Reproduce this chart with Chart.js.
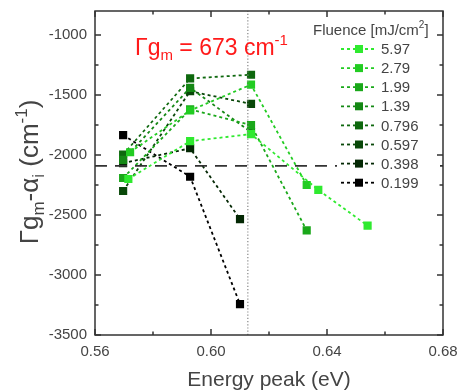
<!DOCTYPE html>
<html>
<head>
<meta charset="utf-8">
<script src="https://cdn.jsdelivr.net/npm/chart.js@4.4.1/dist/chart.umd.min.js"></script>
<style>
html,body{margin:0;padding:0;background:#fff;}
#wrap{width:459px;height:391px;}
</style>
</head>
<body>
<div id="wrap"><canvas id="c" width="459" height="391"></canvas></div>
<script>
// ---- data ----
const fluenceLabels = ['5.97','2.79','1.99','1.39','0.796','0.597','0.398','0.199'];
const s597  = [[0.5715,-2200],[0.5928,-1885],[0.6138,-1826],[0.6370,-2291],[0.6540,-2589]];
const s279  = [[0.5721,-1977],[0.5928,-1629],[0.6138,-1414],[0.6330,-2250]];
const s199  = [[0.5697,-2192],[0.5928,-1620],[0.6138,-1750],[0.6330,-2628]];
const s139  = [[0.5697,-2040],[0.5928,-1440],[0.6138,-1810]];
const s0796 = [[0.5697,-1996],[0.5928,-1362],[0.6138,-1331]];
const s0597 = [[0.5697,-2300],[0.5928,-1469],[0.6138,-1574]];
const s0398 = [[0.5697,-2068],[0.5928,-1944],[0.6100,-2534]];
const s0199 = [[0.5697,-1834],[0.5928,-2181],[0.6100,-3243]];
const seriesData = [s597,s279,s199,s139,s0796,s0597,s0398,s0199];
const seriesColors = ['#2fea2f','#22cc22','#1aa81a','#148814','#0e680e','#094809','#042804','#000000'];
const xTicks = [0.56,0.60,0.64,0.68];
const yTicks = [-3500,-3000,-2500,-2000,-1500,-1000];
const hLineY = -2090;
const vLineX = 0.6127;

const FONT = '"Liberation Sans", Arial, sans-serif';
const TXT = '#444';

const datasets = seriesData.map((s,i)=>({
  label: fluenceLabels[i],
  data: s.map(p=>({x:p[0],y:p[1]})),
  borderColor: seriesColors[i],
  backgroundColor: seriesColors[i],
  pointBorderColor: seriesColors[i],
  borderDash:[3,3],
  borderWidth:1.8,
  pointStyle:'rect',
  pointRadius:4.5,
  showLine:true,
  fill:false,
  tension:0
}));
datasets.unshift({
  label:'h', data:[{x:0.56,y:hLineY},{x:0.68,y:hLineY}],
  borderColor:'#333', borderDash:[12,8], borderWidth:1.8, pointRadius:0, showLine:true, fill:false
});
datasets.unshift({
  label:'v', data:[{x:vLineX,y:-3500},{x:vLineX,y:-800}],
  borderColor:'#888', borderDash:[1.2,2], borderWidth:1.2, pointRadius:0, showLine:true, fill:false
});

function filterTicks(vals){return function(scale){scale.ticks = vals.map(v=>({value:v}));};}

const extras = {
  id:'extras',
  afterDraw(chart){
    const ctx = chart.ctx, a = chart.chartArea;
    const xs = chart.scales.x, ys = chart.scales.y;
    ctx.save();
    // legend background (covers the dashed line)
    ctx.fillStyle='#fff'; ctx.fillRect(337,40,103,152);
    // frame ticks inward
    ctx.strokeStyle='#333'; ctx.lineWidth=1.5;
    ctx.beginPath();
    const xMinor=[0.58,0.62,0.66];
    xTicks.forEach(v=>{const p=xs.getPixelForValue(v); ctx.moveTo(p,a.bottom); ctx.lineTo(p,a.bottom-6); ctx.moveTo(p,a.top); ctx.lineTo(p,a.top+6);});
    xMinor.forEach(v=>{const p=xs.getPixelForValue(v); ctx.moveTo(p,a.bottom); ctx.lineTo(p,a.bottom-3.5); ctx.moveTo(p,a.top); ctx.lineTo(p,a.top+3.5);});
    yTicks.forEach(v=>{const p=ys.getPixelForValue(v); ctx.moveTo(a.left,p); ctx.lineTo(a.left+6,p); ctx.moveTo(a.right,p); ctx.lineTo(a.right-6,p);});
    yTicks.slice(0,-1).forEach(v=>{const p=ys.getPixelForValue(v+250); ctx.moveTo(a.left,p); ctx.lineTo(a.left+3.5,p); ctx.moveTo(a.right,p); ctx.lineTo(a.right-3.5,p);});
    ctx.stroke();
    ctx.strokeRect(a.left,a.top,a.right-a.left,a.bottom-a.top);

    // annotation
    ctx.fillStyle='#ff1a1a'; ctx.textBaseline='alphabetic'; ctx.textAlign='left';
    let x=135, y=55;
    ctx.font='23px '+FONT; ctx.fillText('Γg',x,y); x+=ctx.measureText('Γg').width;
    ctx.font='15px '+FONT; ctx.fillText('m',x,y+5); x+=ctx.measureText('m').width;
    ctx.font='23px '+FONT; ctx.fillText(' = 673 cm',x,y); x+=ctx.measureText(' = 673 cm').width;
    ctx.font='15px '+FONT; ctx.fillText('-1',x,y-10);

    // legend
    ctx.fillStyle=TXT;
    ctx.font='15px '+FONT; x=313; y=35;
    ctx.fillText('Fluence [mJ/cm',x,y); x+=ctx.measureText('Fluence [mJ/cm').width;
    ctx.font='10px '+FONT; ctx.fillText('2',x,y-7); x+=ctx.measureText('2').width;
    ctx.font='15px '+FONT; ctx.fillText(']',x,y);
    fluenceLabels.forEach((lab,i)=>{
      const cy = 49 + i*19.1;
      const col = seriesColors[i];
      ctx.strokeStyle=col; ctx.lineWidth=1.8; ctx.setLineDash([3,3]);
      ctx.beginPath(); ctx.moveTo(341,cy); ctx.lineTo(377,cy); ctx.stroke();
      ctx.setLineDash([]);
      ctx.fillStyle=col; ctx.fillRect(355,cy-4,8,8);
      ctx.fillStyle=TXT; ctx.font='15px '+FONT; ctx.textBaseline='middle';
      ctx.fillText(lab,381,cy+1);
    });

    // y axis title
    ctx.save();
    ctx.translate(38,172); ctx.rotate(-Math.PI/2);
    ctx.fillStyle=TXT; ctx.textBaseline='alphabetic';
    const parts=[['Γg',26,0],['m',17,6],['-α',26,0],['i',17,6],[' (cm',26,0],['-1',17,-11],[')',26,0]];
    let w=0; parts.forEach(p=>{ctx.font=p[1]+'px '+FONT; w+=ctx.measureText(p[0]).width;});
    let tx=-w/2;
    parts.forEach(p=>{ctx.font=p[1]+'px '+FONT; ctx.fillText(p[0],tx,p[2]); tx+=ctx.measureText(p[0]).width;});
    ctx.restore();

    // x axis title
    ctx.fillStyle=TXT; ctx.font='21px '+FONT; ctx.textAlign='center'; ctx.textBaseline='middle';
    ctx.fillText('Energy peak (eV)', (a.left+a.right)/2, 380);
    ctx.restore();
  }
};

new Chart(document.getElementById('c'),{
  type:'scatter',
  data:{datasets},
  options:{
    responsive:false, animation:false, devicePixelRatio:1,
    layout:{padding:{left:0,right:16,top:11,bottom:0}},
    plugins:{legend:{display:false},tooltip:{enabled:false}},
    scales:{
      x:{type:'linear',min:0.56,max:0.68,
        afterBuildTicks:filterTicks(xTicks),
        afterFit(s){s.height=56; s.paddingLeft=0; s.paddingRight=0;},
        grid:{display:false,drawTicks:false},
        border:{display:false},
        ticks:{color:TXT,font:{family:FONT,size:15},padding:8,maxRotation:0,callback:v=>v.toFixed(2)}
      },
      y:{type:'linear',min:-3500,max:-800,
        afterBuildTicks:filterTicks(yTicks),
        afterFit(s){s.width=95; s.paddingTop=0; s.paddingBottom=0;},
        grid:{display:false,drawTicks:false},
        border:{display:false},
        ticks:{color:TXT,font:{family:FONT,size:15},padding:8,callback:v=>String(v)}
      }
    }
  },
  plugins:[extras]
});
</script>
</body>
</html>
